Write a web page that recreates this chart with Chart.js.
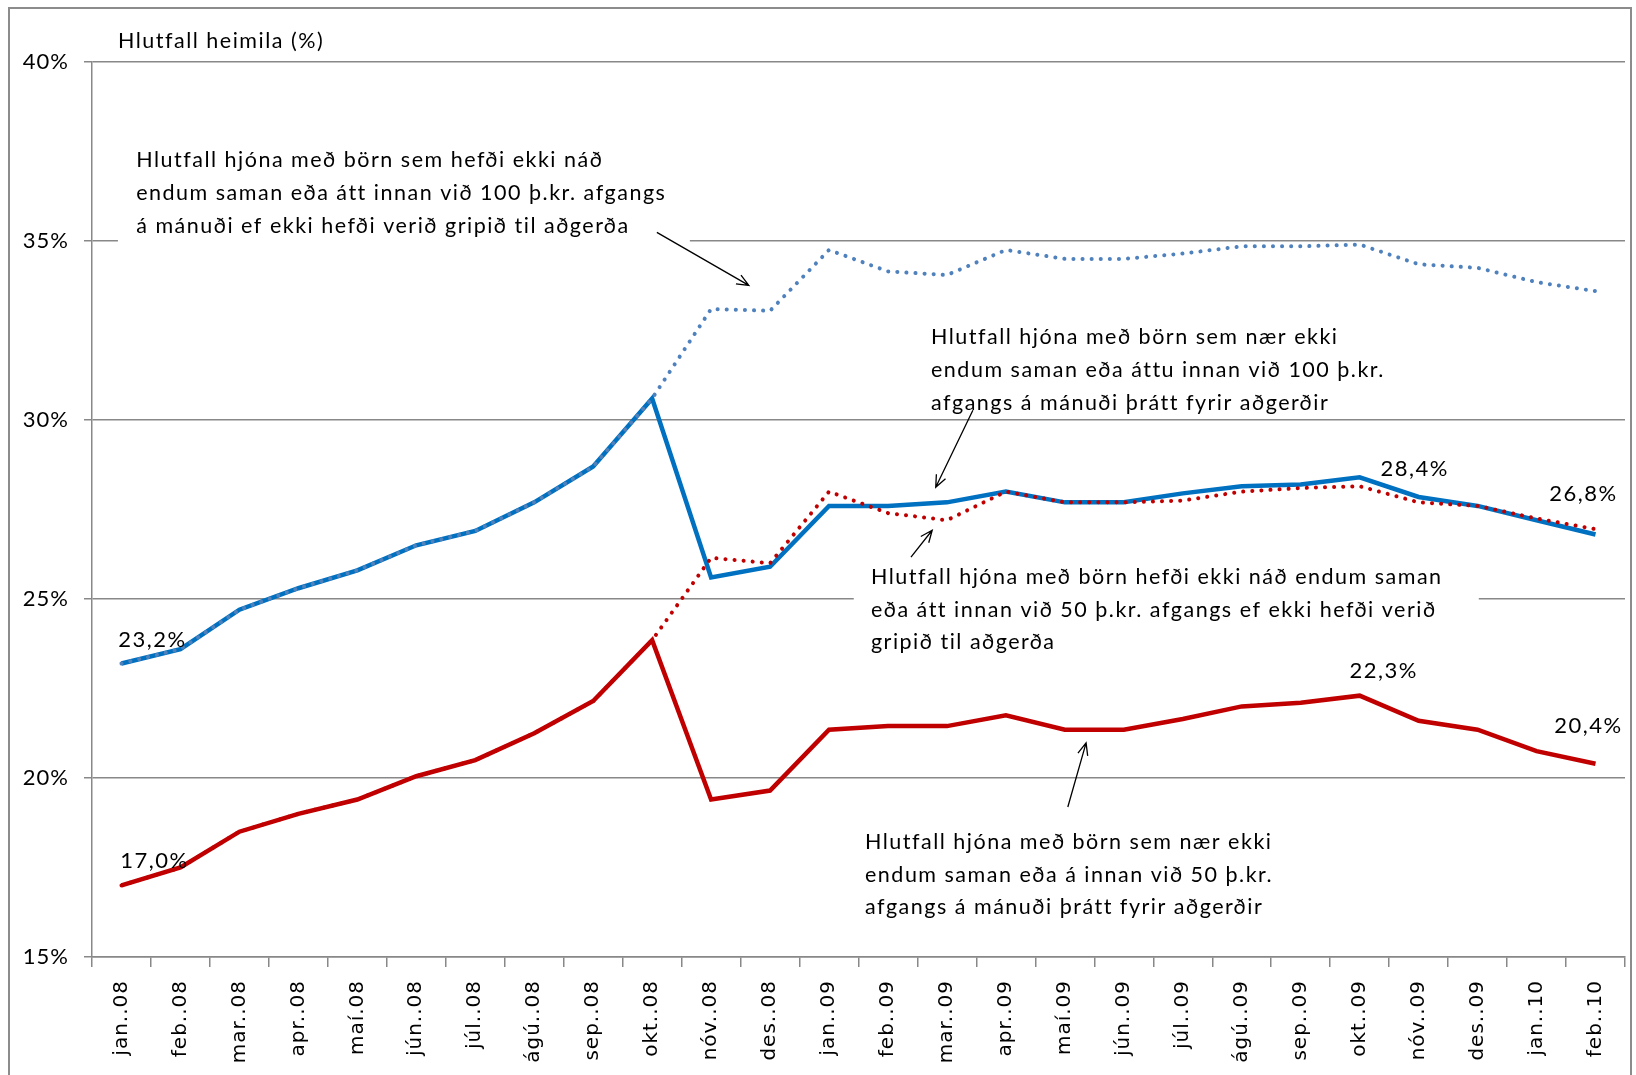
<!DOCTYPE html>
<html>
<head>
<meta charset="utf-8">
<script src="https://cdn.jsdelivr.net/npm/chart.js@4.4.0/dist/chart.umd.min.js"></script>
<style>
  html, body { margin: 0; padding: 0; background: #fff; overflow: hidden; }
  #wrap { position: relative; width: 1636px; height: 1075px; }
  #frame { position: absolute; left: 8px; top: 7px; width: 1624px; height: 1200px; border: 2px solid #8c8c8c; box-sizing: border-box; pointer-events: none; }
  canvas { position: absolute; left: 0; top: 0; }
</style>
</head>
<body>
<div id="wrap">
  <canvas id="myChart" width="1636" height="1075"></canvas>
  <div id="frame"></div>
</div>
<script>
// months on the x axis
const months = ['jan..08', 'feb..08', 'mar..08', 'apr..08', 'maí.08', 'jún..08', 'júl..08', 'ágú..08', 'sep..08', 'okt..08', 'nóv..08', 'des..08',
  'jan..09', 'feb..09', 'mar..09', 'apr..09', 'maí.09', 'jún..09', 'júl..09', 'ágú..09', 'sep..09', 'okt..09', 'nóv..09', 'des..09',
  'jan..10', 'feb..10'];

// below 100 þ.kr. margin, after measures (blue solid)
const blue100 = [23.2, 23.6, 24.7, 25.3, 25.8, 26.5, 26.9, 27.7, 28.7, 30.6, 25.6, 25.9,
  27.6, 27.6, 27.7, 28.0, 27.7, 27.7, 27.95, 28.15, 28.2, 28.4, 27.85, 27.6, 27.2, 26.8];
// below 100 þ.kr. margin, without measures (blue dotted)
const blue100NoAction = [23.2, 23.6, 24.7, 25.3, 25.8, 26.5, 26.9, 27.7, 28.7, 30.6, 33.1, 33.05,
  34.75, 34.15, 34.05, 34.75, 34.5, 34.5, 34.65, 34.85, 34.85, 34.9, 34.35, 34.25, 33.85, 33.6];
// below 50 þ.kr. margin, after measures (red solid)
const red50 = [17.0, 17.5, 18.5, 19.0, 19.4, 20.05, 20.5, 21.25, 22.15, 23.85, 19.4, 19.65,
  21.35, 21.45, 21.45, 21.75, 21.35, 21.35, 21.65, 22.0, 22.1, 22.3, 21.6, 21.35, 20.75, 20.4];
// below 50 þ.kr. margin, without measures (red dotted)
const red50NoAction = [17.0, 17.5, 18.5, 19.0, 19.4, 20.05, 20.5, 21.25, 22.15, 23.85, 26.15, 26.0,
  28.0, 27.4, 27.2, 28.0, 27.7, 27.7, 27.75, 28.0, 28.1, 28.15, 27.7, 27.6, 27.25, 26.95];

const yTicks = [15, 20, 25, 30, 35, 40];

// value labels: [series, index, text, dx, dy]
const valueLabels = [
  ['blue', 0, '23,2%', 31, -24],
  ['red', 0, '17,0%', 33, -24],
  ['blue', 21, '28,4%', 55, -8],
  ['blue', 25, '26,8%', -12, -41],
  ['red', 21, '22,3%', 24, -25],
  ['red', 25, '20,4%', -7, -38]
];

// annotation texts, anchored in data units (category index, percent)
const notes = [
  { x: 0.25, y: 37.25, lines: ['Hlutfall hjóna með börn sem hefði ekki náð', 'endum saman eða átt innan við 100 þ.kr. afgangs', 'á mánuði ef ekki hefði verið gripið til aðgerða'] },
  { x: 13.73, y: 32.31, lines: ['Hlutfall hjóna með börn sem nær ekki', 'endum saman eða áttu innan við 100 þ.kr.', 'afgangs á mánuði þrátt fyrir aðgerðir'] },
  { x: 12.71, y: 25.61, lines: ['Hlutfall hjóna með börn hefði ekki náð endum saman', 'eða átt innan við 50 þ.kr. afgangs ef ekki hefði verið', 'gripið til aðgerða'] },
  { x: 12.61, y: 18.21, lines: ['Hlutfall hjóna með börn sem nær ekki', 'endum saman eða á innan við 50 þ.kr.', 'afgangs á mánuði þrátt fyrir aðgerðir'] }
];
// white boxes behind some notes: x0, x1, y0, y1
const noteBoxes = [
  [-0.06, 9.64, 37.95, 34.74],
  [12.42, 23.02, 26.22, 23.24]
];
// arrows: from (x1,y1) to head at (x2,y2)
const arrows = [
  [9.08, 35.24, 10.64, 33.76],
  [14.44, 30.27, 13.81, 28.12],
  [13.39, 26.17, 13.75, 26.92],
  [16.05, 19.19, 16.36, 20.98]
];

const textFont = '21.5px Lato';

const notesPlugin = {
  id: 'notes',
  beforeDraw(chart) {
    // a bit of letter spacing for the axis labels
    chart.ctx.letterSpacing = '1px';
  },
  beforeDatasetsDraw(chart) {
    const ctx = chart.ctx, xs = chart.scales.x, ys = chart.scales.y;
    ctx.save();
    ctx.fillStyle = '#fff';
    noteBoxes.forEach(b => {
      const x0 = xs.getPixelForValue(b[0]), x1 = xs.getPixelForValue(b[1]);
      const y0 = ys.getPixelForValue(b[2]), y1 = ys.getPixelForValue(b[3]);
      ctx.fillRect(x0, y0, x1 - x0, y1 - y0);
    });
    ctx.restore();
  },
  afterDatasetsDraw(chart) {
    const ctx = chart.ctx, xs = chart.scales.x, ys = chart.scales.y;
    ctx.save();
    ctx.letterSpacing = '1.5px';
    ctx.fillStyle = '#000';
    ctx.font = textFont;
    ctx.textBaseline = 'middle';
    ctx.textAlign = 'left';
    ctx.fillText('Hlutfall heimila (%)', 118, 41);
    notes.forEach(n => {
      const px = xs.getPixelForValue(n.x), py = ys.getPixelForValue(n.y);
      n.lines.forEach((l, i) => ctx.fillText(l, px, py + i * 32.7));
    });
    ctx.textAlign = 'center';
    ctx.font = '22px Lato';
    valueLabels.forEach(v => {
      const arr = v[0] === 'blue' ? blue100 : red50;
      const px = xs.getPixelForValue(v[1]), py = ys.getPixelForValue(arr[v[1]]);
      ctx.fillText(v[2], px + v[3], py + v[4]);
    });
    // arrows
    ctx.strokeStyle = '#000';
    ctx.lineWidth = 1.3;
    arrows.forEach(a => {
      const x1 = xs.getPixelForValue(a[0]), y1 = ys.getPixelForValue(a[1]);
      const x2 = xs.getPixelForValue(a[2]), y2 = ys.getPixelForValue(a[3]);
      const ang = Math.atan2(y2 - y1, x2 - x1);
      ctx.beginPath();
      ctx.moveTo(x1, y1);
      ctx.lineTo(x2, y2);
      ctx.moveTo(x2 - 13 * Math.cos(ang - 0.4), y2 - 13 * Math.sin(ang - 0.4));
      ctx.lineTo(x2, y2);
      ctx.lineTo(x2 - 13 * Math.cos(ang + 0.4), y2 - 13 * Math.sin(ang + 0.4));
      ctx.stroke();
    });
    ctx.restore();
  }
};

const ctx = document.getElementById('myChart').getContext('2d');
const chart = new Chart(ctx, {
  type: 'line',
  data: {
    labels: months,
    datasets: [
      { data: blue100NoAction, borderColor: '#4F81BD', borderWidth: 4, borderDash: [0.1, 9], borderCapStyle: 'round' },
      { data: red50NoAction, borderColor: '#C00000', borderWidth: 4, borderDash: [0.1, 9], borderCapStyle: 'round' },
      { data: blue100, borderColor: '#0070C0', borderWidth: 4.5 },
      { data: red50, borderColor: '#C00000', borderWidth: 4.5 }
    ]
  },
  options: {
    responsive: false,
    animation: false,
    devicePixelRatio: 1,
    layout: { padding: { top: 62, right: 11, left: 0, bottom: 0 } },
    elements: { point: { radius: 0 }, line: { tension: 0 } },
    plugins: { legend: { display: false }, tooltip: { enabled: false } },
    scales: {
      x: {
        offset: true,
        grid: { offset: true, drawOnChartArea: false, drawTicks: true, tickLength: 10, color: '#888', lineWidth: 1.5 },
        border: { color: '#888', width: 1.5 },
        ticks: { color: '#000', font: { family: 'DejaVu Sans', size: 20 }, minRotation: 90, maxRotation: 90, padding: 13, autoSkip: false },
        afterFit(s) { s.height = 118; }
      },
      y: {
        min: 15, max: 40,
        afterBuildTicks(s) { s.ticks = yTicks.map(v => ({ value: v })); },
        grid: { color: '#888', lineWidth: 1.5, tickLength: 8 },
        border: { color: '#888', width: 1.5 },
        ticks: { color: '#000', font: { family: 'Lato', size: 22 }, padding: 15, callback: v => v + '%' },
        afterFit(s) { s.width = 92; }
      }
    }
  },
  plugins: [notesPlugin]
});
</script>
</body>
</html>
